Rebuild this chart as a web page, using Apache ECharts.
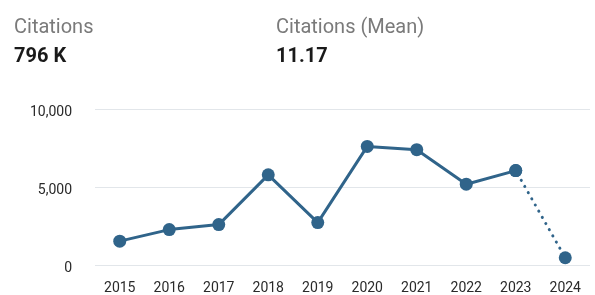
<!DOCTYPE html>
<html>
<head>
<meta charset="utf-8">
<script src="https://cdn.jsdelivr.net/npm/echarts@6/dist/echarts.min.js"></script>
<style>html,body{margin:0;padding:0;background:#fff;}#c{width:595px;height:295px;}</style>
</head>
<body>
<div id="c"></div>
<script>
const years = ['2015','2016','2017','2018','2019','2020','2021','2022','2023','2024'];
const citations = [1530, 2270, 2590, 5780, 2720, 7600, 7390, 5180, 6050, 465];
const solidPart = [1530, 2270, 2590, 5780, 2720, 7600, 7390, 5180, 6050, '-'];
const dottedPart = ['-', '-', '-', '-', '-', '-', '-', '-', 6050, 465];
const yTicks = [0, 5000, 10000];
const kpis = [
  {label: 'Citations', value: '796 K'},
  {label: 'Citations (Mean)', value: '11.17'}
];
const color = '#30648a';
const chart = echarts.init(document.getElementById('c'), null, {renderer: 'canvas'});
chart.setOption({
  animation: false,
  graphic: [
    {type: 'text', left: 14, top: 18, style: {text: kpis[0].label, font: '20px Roboto', fill: '#7a7a7a'}},
    {type: 'text', left: 14, top: 47, style: {text: kpis[0].value, font: 'bold 20px Roboto', fill: '#1a1a1a'}},
    {type: 'text', left: 276, top: 18, style: {text: kpis[1].label, font: '20px Roboto', fill: '#7a7a7a'}},
    {type: 'text', left: 276, top: 47, style: {text: kpis[1].value, font: 'bold 20px Roboto', fill: '#1a1a1a'}}
  ],
  grid: {left: 95, right: 5, top: 109, bottom: 30},
  xAxis: {
    type: 'category', data: years, boundaryGap: true,
    axisLine: {show: false}, axisTick: {show: false},
    axisLabel: {color: '#2a2a2a', fontSize: 14, fontFamily: 'Roboto', margin: 16}
  },
  yAxis: {
    type: 'value', min: 0, max: 10000, interval: 5000,
    axisLine: {show: false}, axisTick: {show: false},
    splitLine: {lineStyle: {color: '#e2e6ea', width: 1}},
    axisLabel: {color: '#2a2a2a', fontSize: 14, fontFamily: 'Roboto', margin: 23,
      verticalAlign: 'top', lineHeight: 6,
      formatter: v => yTicks.includes(v) ? v.toLocaleString('en-US') : ''}
  },
  series: [
    {
      type: 'line', data: dottedPart, symbol: 'circle', symbolSize: 13,
      showSymbol: true, itemStyle: {color: color},
      lineStyle: {color: color, width: 3, type: [0.1, 7], cap: 'round', dashOffset: -4},
      z: 2
    },
    {
      type: 'line', data: solidPart, symbol: 'circle', symbolSize: 13,
      itemStyle: {color: color},
      lineStyle: {color: color, width: 3},
      z: 3
    }
  ]
});
</script>
</body>
</html>
